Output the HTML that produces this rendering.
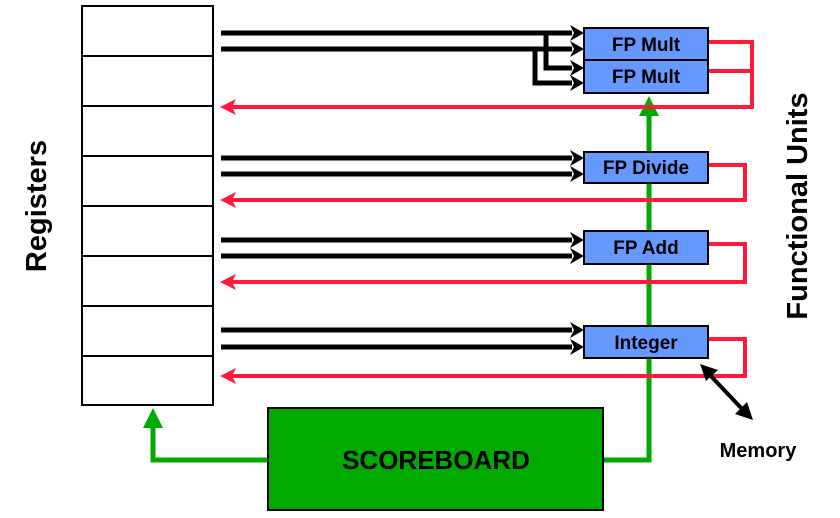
<!DOCTYPE html>
<html><head><style>body{margin:0;background:#fff}svg{display:block}</style></head><body>
<svg width="840" height="518" viewBox="0 0 840 518" xmlns="http://www.w3.org/2000/svg" font-family="Liberation Sans, sans-serif" font-weight="bold">
<!-- registers -->
<rect x="82" y="6" width="131" height="399" fill="#fff" stroke="#000" stroke-width="2"/>
<g stroke="#000" stroke-width="2"><line x1="82" y1="56" x2="213" y2="56"/><line x1="82" y1="106" x2="213" y2="106"/><line x1="82" y1="156" x2="213" y2="156"/><line x1="82" y1="206" x2="213" y2="206"/><line x1="82" y1="256" x2="213" y2="256"/><line x1="82" y1="306" x2="213" y2="306"/><line x1="82" y1="356" x2="213" y2="356"/></g>
<text transform="translate(46,206) rotate(-90)" text-anchor="middle" font-size="29">Registers</text>
<text transform="translate(807,206) rotate(-90)" text-anchor="middle" font-size="29">Functional Units</text>
<!-- green -->
<g stroke="#00aa00" stroke-width="5" fill="none">
<polyline points="603,460 649,460 649,112"/>
<polyline points="268,460 153,460 153,426"/>
</g>
<g fill="#00aa00"><polygon points="649,96 639,116 659,116"/><polygon points="153,408 143,428 163,428"/></g>
<!-- black inputs -->
<g stroke="#000" stroke-width="5" fill="none">
<line x1="221" y1="33" x2="572" y2="33"/><line x1="221" y1="49" x2="572" y2="49"/>
<polyline points="546,33 546,68 572,68"/><polyline points="535,49 535,83 572,83"/>
<line x1="221" y1="158" x2="572" y2="158"/><line x1="221" y1="174" x2="572" y2="174"/>
<line x1="221" y1="240" x2="572" y2="240"/><line x1="221" y1="256" x2="572" y2="256"/>
<line x1="221" y1="330" x2="572" y2="330"/><line x1="221" y1="347" x2="572" y2="347"/>
</g>
<g fill="#000">
<polygon points="584,33 570,25 574,33 570,41"/><polygon points="584,49 570,41 574,49 570,57"/>
<polygon points="584,68 570,60 574,68 570,76"/><polygon points="584,83 570,75 574,83 570,91"/>
<polygon points="584,158 570,150 574,158 570,166"/><polygon points="584,174 570,166 574,174 570,182"/>
<polygon points="584,240 570,232 574,240 570,248"/><polygon points="584,256 570,248 574,256 570,264"/>
<polygon points="584,330 570,322 574,330 570,338"/><polygon points="584,347 570,339 574,347 570,355"/>
</g>
<!-- red outputs -->
<g stroke="#ff1a3c" stroke-width="4" fill="none">
<polyline points="708,42 752,42 752,107 232,107"/>
<line x1="708" y1="71" x2="752" y2="71"/>
<polyline points="708,165 745,165 745,200 232,200"/>
<polyline points="708,244 745,244 745,282 232,282"/>
<polyline points="708,339 745,339 745,376 232,376"/>
</g>
<g fill="#ff1a3c">
<polygon points="220,107 236,99 232,107 236,115"/><polygon points="220,200 236,192 232,200 236,208"/>
<polygon points="220,282 236,274 232,282 236,290"/><polygon points="220,376 236,368 232,376 236,384"/>
</g>
<!-- units -->
<g fill="#6699ff" stroke="#000" stroke-width="2">
<rect x="584" y="28" width="124" height="32"/><rect x="584" y="60" width="124" height="33"/>
<rect x="584" y="152" width="124" height="31"/><rect x="584" y="231" width="124" height="33"/>
<rect x="584" y="326" width="124" height="32"/>
</g>
<g font-size="19" text-anchor="middle">
<text x="646" y="51">FP Mult</text><text x="646" y="83">FP Mult</text>
<text x="646" y="174">FP Divide</text><text x="646" y="254">FP Add</text><text x="646" y="349">Integer</text>
</g>
<!-- memory -->
<line x1="708" y1="373" x2="744" y2="411" stroke="#000" stroke-width="4"/>
<polygon points="700,364 718,370 706,381" fill="#000"/>
<polygon points="753,420 735,414 747,402" fill="#000"/>
<text x="758" y="457" text-anchor="middle" font-size="20">Memory</text>
<!-- scoreboard -->
<rect x="268" y="408" width="335" height="102" fill="#00aa00" stroke="#000" stroke-width="2"/>
<text x="436" y="469" text-anchor="middle" font-size="26">SCOREBOARD</text>
</svg>
</body></html>
